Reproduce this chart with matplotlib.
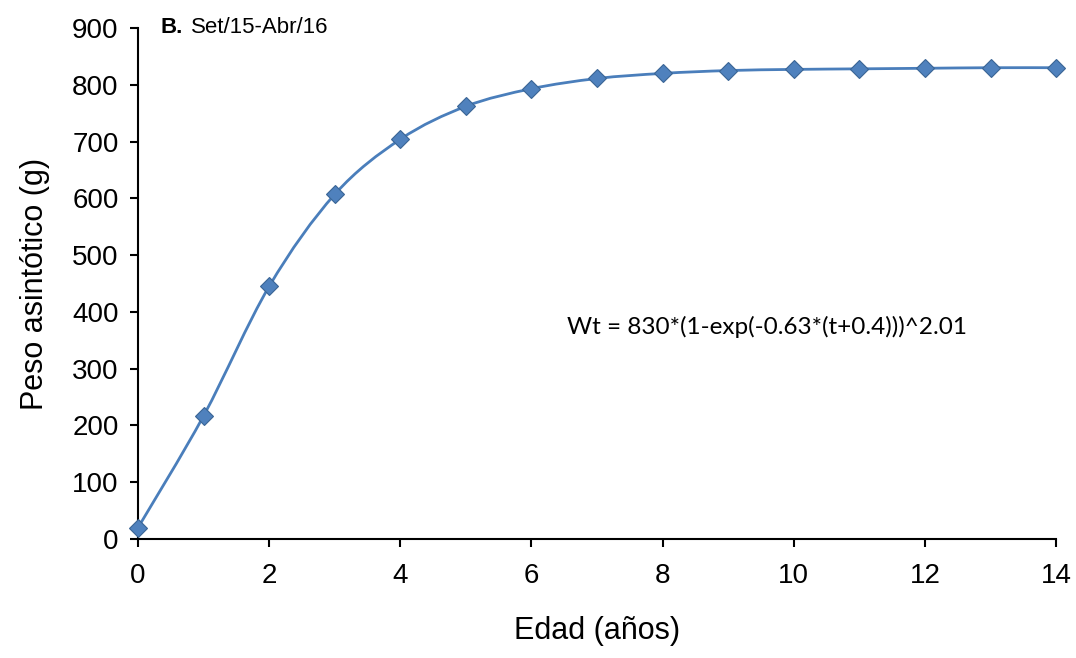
import matplotlib.pyplot as plt
from matplotlib.path import Path
from matplotlib.patches import PathPatch

plt.rcParams['font.family'] = ['Liberation Sans', 'DejaVu Sans']

edad = [0, 1, 2, 3, 4, 5, 6, 7, 8, 9, 10, 11, 12, 13, 14]
peso = [20, 217, 445, 607, 704, 762, 793, 811, 820, 825, 827, 828, 829, 830, 830]

panel = "Set/15-Abr/16"
ecuacion = "Wt = 830*(1-exp(-0.63*(t+0.4)))^2.01"

line_color = "#4A7EBB"
marker_color = "#4F81BD"


def smooth_path(xs, ys):
    # cubic bezier through every point, like a spreadsheet "smoothed line"
    verts = [(xs[0], ys[0])]
    codes = [Path.MOVETO]
    n = len(xs)
    for i in range(n - 1):
        x0, y0 = xs[max(i - 1, 0)], ys[max(i - 1, 0)]
        x1, y1 = xs[i], ys[i]
        x2, y2 = xs[i + 1], ys[i + 1]
        x3, y3 = xs[min(i + 2, n - 1)], ys[min(i + 2, n - 1)]
        c1 = (x1 + (x2 - x0) / 6, y1 + (y2 - y0) / 6)
        c2 = (x2 - (x3 - x1) / 6, y2 - (y3 - y1) / 6)
        verts += [c1, c2, (x2, y2)]
        codes += [Path.CURVE4] * 3
    return Path(verts, codes)


fig = plt.figure(figsize=(10.76, 6.58), dpi=100)
ax = fig.add_axes([0.1283, 0.1809, 0.8532, 0.7766])

ax.add_patch(PathPatch(smooth_path(edad, peso), facecolor="none",
                       edgecolor=line_color, lw=2, zorder=2))
ax.plot(edad, peso, linestyle="none", marker="D", markersize=9,
        markerfacecolor=marker_color, markeredgecolor="#3A6595",
        markeredgewidth=0.8, zorder=3, clip_on=False)

ax.set_xlim(0, 14)
ax.set_ylim(0, 900)
ax.set_xticks(range(0, 15, 2))
ax.set_yticks(range(0, 901, 100))

for s in ["top", "right"]:
    ax.spines[s].set_visible(False)
for s in ["left", "bottom"]:
    ax.spines[s].set_linewidth(1.5)
ax.tick_params(direction="out", length=6, width=1.5, labelsize=20)
ax.tick_params(axis="x", pad=11)
ax.tick_params(axis="y", pad=8)

ax.set_xlabel("Edad (años)", fontsize=22, labelpad=20)
ax.set_ylabel("Peso asintótico (g)", fontsize=22, labelpad=16)

ax.text(0.024, 1.0, "B.", transform=ax.transAxes, fontsize=16,
        fontweight="bold", va="center", ha="left")
ax.text(0.058, 1.0, panel, transform=ax.transAxes, fontsize=16,
        va="center", ha="left")
ax.text(0.467, 0.415, ecuacion, transform=ax.transAxes, fontsize=17.5,
        family="Lato", va="center", ha="left")

fig.savefig("out.png", dpi=100)
